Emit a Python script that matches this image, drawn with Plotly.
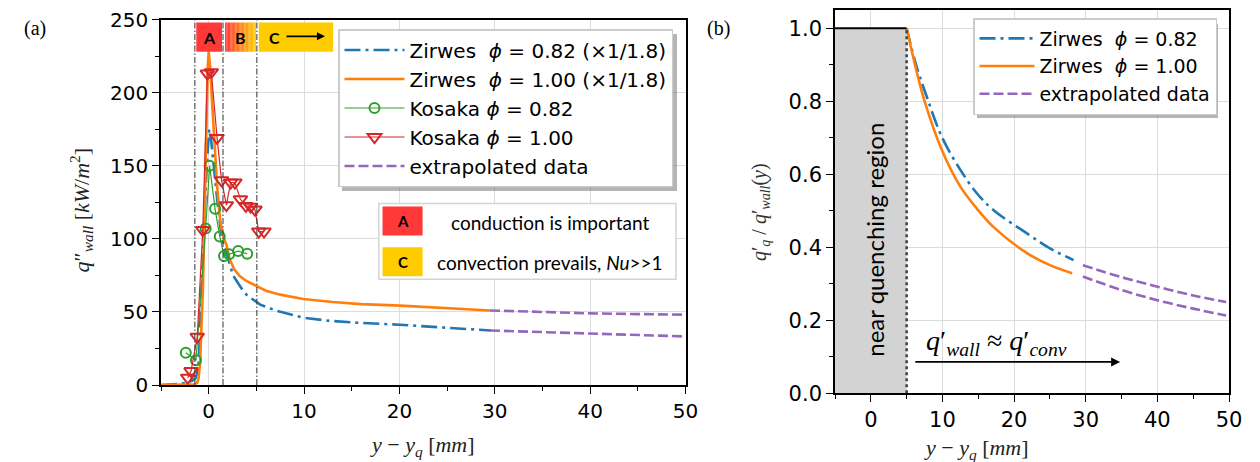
import plotly.graph_objects as go

# ---------------- panel (a): wall heat flux ----------------
zir082_x = [-5, -4, -3, -2.2, -1.7, -1.4, -1.2, -1.05, -0.95, -0.77, -0.6, -0.42, -0.2,
            0.05, 0.25, 0.46, 0.8, 1.0, 1.33, 1.6, 2.03, 2.56, 2.9, 3.5, 4.0, 5.4, 7.0,
            9.9, 12.5, 15.0, 20.0, 25.0, 29.6]
zir082_q = [0, 0.3, 0.8, 1.8, 3, 4.5, 8, 15, 33, 67, 95, 119, 150,
            175, 168, 155, 130, 120, 103, 95, 86.5, 75, 71.5, 65.5, 61.5, 55, 51,
            46, 44, 42.8, 41.2, 39.2, 37.3]

zir100_x = [-5, -3, -2, -1.5, -1.2, -1.05, -0.9, -0.77, -0.6, -0.4, -0.24, -0.1, 0.0,
            0.15, 0.35, 0.6, 0.9, 1.2, 1.5, 1.86, 2.2, 2.7, 3.25, 4.0, 5.0, 6.0, 7.5,
            9.9, 13.0, 16.0, 20.1, 25.0, 29.5]
zir100_q = [0, 0, 0.2, 0.5, 1.5, 5, 15, 33, 67, 125, 190, 218, 228,
            218, 194, 165, 135, 113, 102, 96, 86, 79, 74.5, 71, 67.5, 64.5, 61.8,
            58.8, 56.8, 55.3, 54.3, 52.6, 51.0]

kos082_x = [-2.4, -1.33, -0.32, 0.1, 0.67, 1.16, 1.61, 2.14, 3.09, 4.04]
kos082_q = [22, 17, 107, 150, 120.5, 101.6, 88.2, 89.4, 91.6, 89.8]

kos100_x = [-2.2, -1.85, -1.2, -0.62, -0.14, 0.28, 0.88, 1.35, 1.86, 2.3, 2.75,
            3.33, 3.9, 4.4, 4.85, 5.25, 5.8]
kos100_q = [5, 9.5, 33, 106, 213, 214, 169, 140, 123, 138.5, 138.5,
            127, 122.5, 122, 120, 105, 105]

ext_a_x = [29.5, 35, 40, 45, 50]
ext_a082_q = [37.3, 36.1, 35.2, 34.1, 33.2]
ext_a100_q = [51.0, 49.8, 49.0, 48.5, 48.1]

region_edges = [-1.45, 1.5, 5.05]

# ---------------- panel (b): normalised heat flux ----------------
ratio082_x = [5, 6.4, 7.8, 9.9, 12.5, 14.8, 17.1, 21.8, 25.0, 28.3]
ratio082 = [1.0, 0.894, 0.813, 0.703, 0.612, 0.548, 0.502, 0.438, 0.397, 0.365]
ratio100_x = [5, 6.4, 7.6, 9.9, 12.5, 14.8, 17.1, 21.8, 25.0, 28.1]
ratio100 = [1.0, 0.881, 0.794, 0.667, 0.566, 0.506, 0.456, 0.384, 0.351, 0.329]

ext_b_x = [29.6, 35, 40, 45, 49.6]
ext_b082 = [0.351, 0.318, 0.292, 0.268, 0.250]
ext_b100 = [0.320, 0.283, 0.255, 0.232, 0.213]

BLUE, ORANGE, GREEN, RED, PURPLE = "#1f77b4", "#ff7f0e", "#2ca02c", "#d62728", "#9467bd"
DASHDOT = "16px,5px,3px,5px"
DASHED = "10px,4px"
SANS = "DejaVu Sans"
SERIF = "Liberation Serif"
W, H = 1260, 462


def px(x):
    return x / W


def py(y):
    return 1 - y / H


fig = go.Figure()

# panel (a) traces
fig.add_trace(go.Scatter(x=zir082_x, y=zir082_q, mode="lines",
                         line=dict(color=BLUE, width=2.6, dash=DASHDOT),
                         name="Zirwes  <i>ϕ</i> = 0.82 (×1/1.8)", legend="legend",
                         xaxis="x", yaxis="y"))
fig.add_trace(go.Scatter(x=zir100_x, y=zir100_q, mode="lines",
                         line=dict(color=ORANGE, width=2.6),
                         name="Zirwes  <i>ϕ</i> = 1.00 (×1/1.8)", legend="legend",
                         xaxis="x", yaxis="y"))
fig.add_trace(go.Scatter(x=kos082_x, y=kos082_q, mode="lines+markers",
                         line=dict(color=GREEN, width=1.2),
                         marker=dict(symbol="circle-open", size=10, color=GREEN,
                                     line=dict(width=2)),
                         name="Kosaka <i>ϕ</i> = 0.82", legend="legend",
                         xaxis="x", yaxis="y"))
fig.add_trace(go.Scatter(x=kos100_x, y=kos100_q, mode="lines+markers",
                         line=dict(color=RED, width=1.2),
                         marker=dict(symbol="triangle-down-open", size=12, color=RED,
                                     line=dict(width=2)),
                         name="Kosaka <i>ϕ</i> = 1.00", legend="legend",
                         xaxis="x", yaxis="y"))
fig.add_trace(go.Scatter(x=ext_a_x, y=ext_a100_q, mode="lines",
                         line=dict(color=PURPLE, width=2.6, dash=DASHED),
                         name="extrapolated data", legend="legend", legendgroup="exa",
                         xaxis="x", yaxis="y"))
fig.add_trace(go.Scatter(x=ext_a_x, y=ext_a082_q, mode="lines",
                         line=dict(color=PURPLE, width=2.6, dash=DASHED),
                         name="extrapolated data", legend="legend", legendgroup="exa",
                         showlegend=False, xaxis="x", yaxis="y"))

# panel (b) traces
fig.add_trace(go.Scatter(x=ratio082_x, y=ratio082, mode="lines", line_shape="spline",
                         line=dict(color=BLUE, width=2.6, dash=DASHDOT),
                         name="Zirwes  <i>ϕ</i> = 0.82", legend="legend2",
                         xaxis="x2", yaxis="y2"))
fig.add_trace(go.Scatter(x=ratio100_x, y=ratio100, mode="lines", line_shape="spline",
                         line=dict(color=ORANGE, width=2.6),
                         name="Zirwes  <i>ϕ</i> = 1.00", legend="legend2",
                         xaxis="x2", yaxis="y2"))
fig.add_trace(go.Scatter(x=ext_b_x, y=ext_b082, mode="lines", line_shape="spline",
                         line=dict(color=PURPLE, width=2.6, dash=DASHED),
                         name="extrapolated data", legend="legend2", legendgroup="exb",
                         xaxis="x2", yaxis="y2"))
fig.add_trace(go.Scatter(x=ext_b_x, y=ext_b100, mode="lines", line_shape="spline",
                         line=dict(color=PURPLE, width=2.6, dash=DASHED),
                         name="extrapolated data", legend="legend2", legendgroup="exb",
                         showlegend=False, xaxis="x2", yaxis="y2"))

shapes = []
annotations = []

# regime boundaries in panel (a)
for xe in region_edges:
    shapes.append(dict(type="line", xref="x", yref="y domain", x0=xe, x1=xe, y0=0, y1=1,
                       line=dict(color="#444444", width=1.1, dash="6px,2px,1.5px,2px"),
                       layer="above"))

# regime boxes A / B / C along the top of panel (a)
RED_BOX = (255, 56, 56)
YEL_BOX = (255, 204, 0)
box_lo, box_hi = 228, 248
shapes.append(dict(type="rect", xref="x", yref="y", x0=-1.3, x1=1.4, y0=box_lo, y1=box_hi,
                   fillcolor="rgb(255,56,56)", line=dict(width=0), layer="above"))
n_steps = 24
b0, b1 = 1.72, 4.95
for i in range(n_steps):
    t = i / (n_steps - 1)
    col = tuple(int(round(RED_BOX[k] + (YEL_BOX[k] - RED_BOX[k]) * t)) for k in range(3))
    xa = b0 + (b1 - b0) * i / n_steps
    xb = b0 + (b1 - b0) * (i + 1) / n_steps
    shapes.append(dict(type="rect", xref="x", yref="y", x0=xa, x1=xb + 0.01,
                       y0=box_lo, y1=box_hi, fillcolor="rgb(%d,%d,%d)" % col,
                       line=dict(width=0), layer="above"))
shapes.append(dict(type="rect", xref="x", yref="y", x0=5.25, x1=13.05, y0=box_lo, y1=box_hi,
                   fillcolor="rgb(255,204,0)", line=dict(width=0), layer="above"))
for txt, xc in (("A", 0.05), ("B", 3.3), ("C", 6.9)):
    annotations.append(dict(x=xc, y=238, xref="x", yref="y", text="<b>%s</b>" % txt,
                            showarrow=False, font=dict(family="Lato", size=16, color="black")))
annotations.append(dict(x=12.2, y=238.5, ax=8.0, ay=238.5, xref="x", yref="y",
                        axref="x", ayref="y", text="", showarrow=True, arrowhead=2,
                        arrowsize=0.9, arrowwidth=1.8, arrowcolor="black"))

# key for the regime boxes
shapes.append(dict(type="rect", xref="x", yref="y", x0=17.84, x1=49.0, y0=72.3, y1=124.1,
                   fillcolor="white", line=dict(color="#d4d4d4", width=1.5), layer="above"))
shapes.append(dict(type="rect", xref="x", yref="y", x0=18.23, x1=22.43, y0=102.3, y1=122.1,
                   fillcolor="rgb(255,56,56)", line=dict(width=0), layer="above"))
shapes.append(dict(type="rect", xref="x", yref="y", x0=18.23, x1=22.43, y0=74.4, y1=94.3,
                   fillcolor="rgb(255,204,0)", line=dict(width=0), layer="above"))
annotations.append(dict(x=20.33, y=112.2, xref="x", yref="y", text="<b>A</b>", showarrow=False,
                        font=dict(family="Lato", size=15, color="black")))
annotations.append(dict(x=20.33, y=84.3, xref="x", yref="y", text="<b>C</b>", showarrow=False,
                        font=dict(family="Lato", size=15, color="black")))
annotations.append(dict(x=35.8, y=111.4, xref="x", yref="y", text="conduction is important",
                        showarrow=False, font=dict(family="Lato", size=19, color="black")))
annotations.append(dict(x=35.8, y=84.1, xref="x", yref="y",
                        text="convection prevails, <i>Nu</i>>>1",
                        showarrow=False, font=dict(family="Lato", size=19, color="black")))

# panel (b): near-quenching region
shapes.append(dict(type="rect", xref="x2", yref="y2", x0=-5, x1=5, y0=0, y1=1.0,
                   fillcolor="#d3d3d3", line=dict(width=0), layer="between"))
shapes.append(dict(type="line", xref="x2", yref="y2", x0=-5, x1=5, y0=1.0, y1=1.0,
                   line=dict(color="black", width=2), layer="above"))
shapes.append(dict(type="line", xref="x2", yref="y2", x0=5, x1=5, y0=0, y1=1.0,
                   line=dict(color="#444444", width=2.6, dash="dot"), layer="above"))
annotations.append(dict(x=0.55, y=0.42, xref="x2", yref="y2", text="near quenching region",
                        textangle=-90, showarrow=False,
                        font=dict(family="Lato", size=24, color="black")))
annotations.append(dict(x=17.6, y=0.14, xref="x2", yref="y2",
                        text="<i>q</i>′<sub><i>wall</i></sub> ≈ <i>q</i>′<sub><i>conv</i></sub>",
                        showarrow=False, font=dict(family=SERIF, size=28, color="black")))
annotations.append(dict(x=34.8, y=0.086, ax=6.0, ay=0.086, xref="x2", yref="y2",
                        axref="x2", ayref="y2", text="", showarrow=True, arrowhead=2,
                        arrowsize=1, arrowwidth=1.8, arrowcolor="black"))

# legend shadows (drawn just behind each legend box)
shapes.append(dict(type="rect", xref="paper", yref="paper",
                   x0=px(342), x1=px(677), y0=py(191), y1=py(34),
                   fillcolor="rgba(120,120,120,0.55)", line=dict(width=0), layer="above"))
shapes.append(dict(type="rect", xref="paper", yref="paper",
                   x0=px(977), x1=px(1218), y0=py(118), y1=py(24),
                   fillcolor="rgba(120,120,120,0.55)", line=dict(width=0), layer="above"))

# panel labels and axis titles
annotations.append(dict(x=px(22), y=py(15), xref="paper", yref="paper", text="(a)",
                        showarrow=False, font=dict(family=SERIF, size=20, color="black")))
annotations.append(dict(x=px(718), y=py(15), xref="paper", yref="paper", text="(b)",
                        showarrow=False, font=dict(family=SERIF, size=20, color="black")))
xlabel = "<i>y</i> − <i>y</i><sub><i>q</i></sub> [<i>mm</i>]"
annotations.append(dict(x=px(423), y=py(430), xref="paper", yref="paper", text=xlabel,
                        yanchor="top", showarrow=False,
                        font=dict(family=SERIF, size=22, color="#222")))
annotations.append(dict(x=px(1031), y=py(433), xref="paper", yref="paper", text=xlabel,
                        yanchor="top", showarrow=False,
                        font=dict(family=SERIF, size=22, color="#222")))
annotations.append(dict(x=px(63), y=py(210), xref="paper", yref="paper",
                        text="<i>q</i>″<sub><i>wall</i></sub> [<i>kW</i>/<i>m</i><sup>2</sup>]",
                        textangle=-90, showarrow=False,
                        font=dict(family=SERIF, size=22, color="#222")))
annotations.append(dict(x=px(760), y=py(212), xref="paper", yref="paper",
                        text="<i>q</i>′<sub><i>q</i></sub> / <i>q</i>′<sub><i>wall</i></sub>(<i>y</i>)",
                        textangle=-90, showarrow=False,
                        font=dict(family=SERIF, size=20, color="#333")))

axis_common = dict(showline=True, linecolor="black", linewidth=1.6, mirror=True,
                   ticks="outside", ticklen=7, tickwidth=1.3, tickcolor="black",
                   showgrid=True, gridcolor="#dcdcdc", gridwidth=1, zeroline=False,
                   automargin=False)

fig.update_layout(
    width=W, height=H,
    margin=dict(l=0, r=0, t=0, b=0, autoexpand=False),
    paper_bgcolor="white", plot_bgcolor="white",
    font=dict(family=SANS, color="black"),
    xaxis=dict(domain=[px(161), px(685.5)], range=[-5, 50], dtick=10,
               tickfont=dict(size=20), anchor="y",
               minor=dict(dtick=5, ticks="outside", ticklen=4, tickwidth=1,
                          tickcolor="black", showgrid=False), **axis_common),
    yaxis=dict(domain=[py(385), py(19.5)], range=[0, 250], dtick=50,
               tickfont=dict(size=20), anchor="x",
               minor=dict(dtick=25, ticks="outside", ticklen=4, tickwidth=1,
                          tickcolor="black", showgrid=False), **axis_common),
    xaxis2=dict(domain=[px(835), px(1229)], range=[-5, 50], dtick=10,
                tickfont=dict(size=21), anchor="y2",
                minor=dict(dtick=5, ticks="outside", ticklen=4, tickwidth=1,
                           tickcolor="black", showgrid=False), **axis_common),
    yaxis2=dict(domain=[py(393.3), py(10)], range=[0, 1.05], dtick=0.2,
                tickformat=".1f", tickfont=dict(size=21), anchor="x2",
                minor=dict(dtick=0.1, ticks="outside", ticklen=4, tickwidth=1,
                           tickcolor="black", showgrid=False), **axis_common),
    legend=dict(x=px(338), y=py(29), xanchor="left", yanchor="top",
                bgcolor="white", bordercolor="#cccccc", borderwidth=1.5,
                font=dict(family=SANS, size=20, color="black"), itemwidth=60,
                tracegroupgap=0),
    legend2=dict(x=px(973), y=py(18), xanchor="left", yanchor="top",
                 bgcolor="white", bordercolor="#cccccc", borderwidth=1.5,
                 font=dict(family=SANS, size=19, color="black"), itemwidth=55,
                 tracegroupgap=0),
    shapes=shapes,
    annotations=annotations,
)

fig.write_html("out.html")
